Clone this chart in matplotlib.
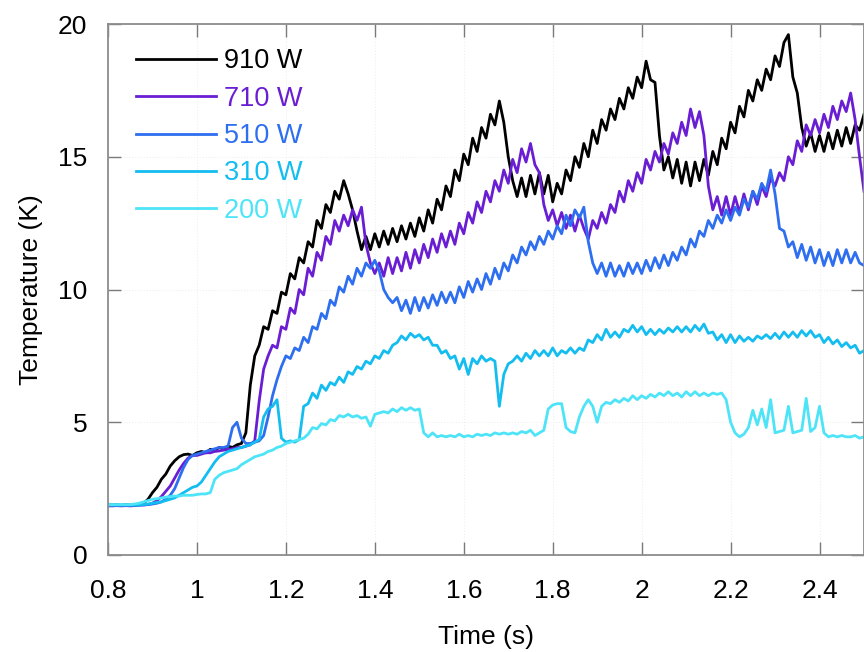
import numpy as np
import matplotlib
matplotlib.use("Agg")
import matplotlib.pyplot as plt

plt.rcParams['font.family'] = ['Liberation Sans', 'DejaVu Sans']

# time base (s), sampled every 10 ms
time_s = np.round(np.arange(0.80, 2.505, 0.01), 2)

labels = ["910 W", "710 W", "510 W", "310 W", "200 W"]
colors = ["#000000", "#6a1ed4", "#2e6ef0", "#14bdf0", "#4de4f8"]

temp_910 = [
    1.90, 1.88, 1.90, 1.87, 1.90, 1.88, 1.90, 1.90, 1.95, 2.10,
    2.35, 2.55, 2.85, 3.05, 3.35, 3.55, 3.70, 3.78, 3.80, 3.75,
    3.85, 3.90, 3.85, 3.98, 3.95, 4.05, 4.00, 4.10, 4.05, 4.15,
    4.20, 4.60, 6.40, 7.50, 7.90, 8.60, 8.50, 9.20, 9.10, 9.90,
    9.80, 10.60, 10.40, 11.20, 11.00, 11.80, 11.60, 12.60, 12.30, 13.20,
    12.90, 13.70, 13.40, 14.10, 13.60, 13.00, 12.20, 11.50, 12.00, 11.50,
    12.10, 11.60, 12.20, 11.70, 12.30, 11.80, 12.40, 11.90, 12.50, 12.00,
    12.70, 12.20, 13.00, 12.50, 13.40, 13.00, 13.90, 13.50, 14.50, 14.10,
    15.10, 14.70, 15.70, 15.20, 16.10, 15.70, 16.60, 16.20, 17.10, 16.30,
    15.00, 14.10, 13.50, 14.20, 13.50, 14.30, 13.60, 14.40, 13.60, 14.30,
    13.30, 14.00, 13.60, 14.50, 14.10, 15.00, 14.60, 15.50, 15.00, 16.00,
    15.50, 16.40, 16.00, 16.80, 16.40, 17.20, 16.80, 17.60, 17.20, 18.00,
    17.60, 18.60, 17.90, 17.80, 15.80, 14.50, 15.00, 14.20, 14.90, 14.00,
    14.80, 13.90, 14.80, 14.10, 14.90, 14.30, 15.20, 14.70, 15.70, 15.30,
    16.30, 15.90, 16.90, 16.50, 17.50, 17.10, 17.90, 17.50, 18.30, 17.90,
    18.80, 18.40, 19.30, 19.60, 18.00, 17.40, 16.10, 15.40, 15.90, 15.20,
    15.80, 15.20, 15.90, 15.30, 16.00, 15.40, 16.10, 15.50, 16.20, 16.00,
    16.60,
]

temp_710 = [
    1.85, 1.85, 1.86, 1.85, 1.86, 1.85, 1.86, 1.88, 1.88, 1.90,
    1.95, 2.05, 2.20, 2.40, 2.60, 2.90, 3.20, 3.45, 3.65, 3.75,
    3.75, 3.80, 3.85, 3.85, 3.90, 3.92, 3.95, 3.98, 4.00, 4.05,
    4.05, 4.10, 4.15, 4.30, 5.80, 7.00, 7.50, 7.90, 7.80, 8.60,
    8.50, 9.30, 9.10, 10.00, 9.80, 10.80, 10.50, 11.40, 11.10, 12.00,
    11.70, 12.60, 12.20, 12.80, 12.40, 13.00, 12.60, 13.10, 11.70, 11.00,
    10.60, 11.00, 10.50, 11.20, 10.60, 11.20, 10.70, 11.40, 10.80, 11.50,
    11.00, 11.70, 11.20, 11.90, 11.40, 12.10, 11.60, 12.20, 11.70, 12.50,
    12.10, 12.90, 12.50, 13.30, 12.90, 13.70, 13.30, 14.10, 13.70, 14.50,
    14.00, 14.90, 14.40, 15.30, 14.80, 15.50, 14.70, 14.40, 13.20, 12.60,
    13.00, 12.40, 12.90, 12.30, 12.80, 12.20, 12.80, 12.30, 11.90, 12.60,
    12.30, 12.90, 12.50, 13.20, 12.90, 13.70, 13.30, 14.10, 13.70, 14.40,
    14.00, 14.90, 14.50, 15.20, 14.80, 15.50, 15.10, 15.90, 15.50, 16.30,
    15.80, 16.80, 16.10, 16.70, 15.80, 13.90, 13.00, 13.50, 12.80, 13.50,
    12.80, 13.50, 12.90, 13.60, 13.00, 13.70, 13.20, 13.90, 13.50, 14.20,
    13.90, 14.40, 14.10, 15.00, 14.70, 15.60, 15.20, 16.20, 15.80, 16.40,
    15.90, 16.60, 16.10, 16.90, 16.40, 17.10, 16.70, 17.40, 16.40, 15.00,
    13.70,
]

temp_510 = [
    1.88, 1.87, 1.88, 1.87, 1.88, 1.87, 1.88, 1.88, 1.90, 1.90,
    1.92, 1.95, 2.00, 2.10, 2.25, 2.50, 2.90, 3.30, 3.60, 3.75,
    3.80, 3.85, 3.90, 3.95, 4.00, 4.05, 4.05, 4.10, 4.80, 5.00,
    4.40, 4.20, 4.20, 4.25, 4.30, 4.50, 5.20, 6.00, 6.60, 7.10,
    7.50, 7.40, 7.80, 7.70, 8.20, 8.00, 8.60, 8.50, 9.10, 8.90,
    9.60, 9.40, 10.10, 9.90, 10.50, 10.20, 10.80, 10.50, 11.00, 10.80,
    11.10, 10.70, 10.00, 9.70, 9.50, 9.70, 9.20, 9.60, 9.10, 9.70,
    9.20, 9.70, 9.30, 9.80, 9.40, 9.90, 9.50, 9.90, 9.50, 10.10,
    9.70, 10.30, 9.90, 10.40, 10.00, 10.60, 10.20, 10.80, 10.40, 11.00,
    10.70, 11.30, 11.00, 11.60, 11.30, 11.80, 11.50, 12.00, 11.70, 12.20,
    11.90, 12.40, 12.10, 12.80, 12.40, 13.00, 12.70, 13.10, 11.80, 11.00,
    10.60, 11.00, 10.50, 11.00, 10.50, 10.90, 10.50, 11.00, 10.60, 11.00,
    10.60, 11.10, 10.70, 11.20, 10.80, 11.30, 10.90, 11.40, 11.10, 11.60,
    11.30, 11.90, 11.60, 12.20, 12.00, 12.60, 12.30, 12.80, 12.50, 13.00,
    12.60, 13.10, 12.80, 13.40, 13.10, 13.70, 13.40, 14.00, 13.70, 14.50,
    13.60, 12.30, 12.20, 11.60, 11.80, 11.20, 11.70, 11.10, 11.60, 11.00,
    11.50, 10.90, 11.40, 10.90, 11.50, 11.00, 11.50, 11.00, 11.40, 11.00,
    10.90,
]

temp_310 = [
    1.88, 1.88, 1.88, 1.88, 1.88, 1.88, 1.88, 1.88, 1.90, 1.92,
    1.95, 1.98, 2.00, 2.05, 2.10, 2.15, 2.25, 2.35, 2.45, 2.55,
    2.60, 2.75, 3.00, 3.25, 3.50, 3.70, 3.80, 3.90, 3.95, 4.00,
    4.05, 4.10, 4.15, 4.25, 4.35, 5.20, 5.50, 5.60, 5.85, 4.40,
    4.25, 4.30, 4.25, 4.35, 5.60, 5.70, 6.10, 5.90, 6.40, 6.20,
    6.50, 6.40, 6.70, 6.50, 6.90, 6.80, 7.10, 7.00, 7.30, 7.20,
    7.50, 7.40, 7.70, 7.60, 7.90, 8.00, 8.25, 8.10, 8.35, 8.20,
    8.30, 8.10, 8.20, 7.90, 7.90, 7.60, 7.70, 7.40, 7.50, 7.00,
    7.40, 6.80, 7.40, 7.20, 7.50, 7.30, 7.40, 7.30, 5.60, 6.80,
    7.20, 7.30, 7.50, 7.30, 7.60, 7.40, 7.70, 7.50, 7.70, 7.50,
    7.80, 7.50, 7.70, 7.60, 7.80, 7.60, 7.80, 7.70, 8.10, 8.00,
    8.30, 8.10, 8.50, 8.20, 8.40, 8.20, 8.50, 8.40, 8.65, 8.40,
    8.60, 8.30, 8.50, 8.30, 8.50, 8.35, 8.55, 8.40, 8.60, 8.40,
    8.60, 8.40, 8.65, 8.45, 8.70, 8.35, 8.40, 8.10, 8.30, 8.00,
    8.30, 8.00, 8.25, 8.05, 8.20, 8.05, 8.25, 8.15, 8.30, 8.15,
    8.35, 8.15, 8.40, 8.20, 8.40, 8.20, 8.45, 8.25, 8.45, 8.20,
    8.30, 8.00, 8.20, 7.95, 8.10, 7.85, 8.00, 7.80, 7.90, 7.60,
    7.70,
]

temp_200 = [
    1.90, 1.90, 1.90, 1.90, 1.90, 1.90, 1.92, 1.95, 2.00, 2.05,
    2.10, 2.12, 2.15, 2.18, 2.20, 2.22, 2.22, 2.25, 2.25, 2.25,
    2.28, 2.30, 2.30, 2.35, 2.85, 3.00, 3.10, 3.15, 3.20, 3.25,
    3.40, 3.50, 3.60, 3.70, 3.75, 3.80, 3.90, 3.95, 4.05, 4.10,
    4.20, 4.25, 4.30, 4.35, 4.40, 4.55, 4.80, 4.75, 4.95, 4.90,
    5.10, 5.05, 5.25, 5.20, 5.30, 5.20, 5.25, 5.15, 5.20, 4.85,
    5.30, 5.35, 5.40, 5.35, 5.50, 5.40, 5.55, 5.45, 5.55, 5.45,
    5.50, 4.60, 4.45, 4.60, 4.45, 4.50, 4.45, 4.50, 4.45, 4.55,
    4.45, 4.50, 4.45, 4.55, 4.50, 4.55, 4.50, 4.60, 4.55, 4.60,
    4.55, 4.60, 4.55, 4.65, 4.60, 4.70, 4.50, 4.60, 4.70, 5.50,
    5.65, 5.70, 5.70, 4.80, 4.65, 4.60, 5.20, 5.60, 5.85, 5.60,
    5.00, 5.60, 5.75, 5.70, 5.85, 5.75, 5.90, 5.80, 6.00, 5.85,
    6.00, 5.90, 6.05, 5.95, 6.10, 6.00, 6.15, 6.00, 6.10, 5.95,
    6.15, 6.00, 6.15, 6.00, 6.10, 6.00, 6.10, 6.05, 6.10, 5.85,
    5.00, 4.60, 4.45, 4.55, 4.80, 5.45, 4.90, 5.50, 4.80, 5.85,
    4.60, 4.65, 4.70, 5.60, 4.60, 4.65, 4.70, 5.90, 4.65, 4.80,
    5.60, 4.60, 4.45, 4.50, 4.45, 4.50, 4.45, 4.45, 4.50, 4.40,
    4.45,
]

series = [temp_910, temp_710, temp_510, temp_310, temp_200]

fig = plt.figure(figsize=(8.64, 6.52), dpi=100)
ax = fig.add_axes([108 / 864, 97 / 652, 756 / 864, 531 / 652])

for vals, lab, col in zip(series, labels, colors):
    ax.plot(time_s, vals, color=col, lw=2.0, label=lab)

ax.set_xlim(0.8, 2.5)
ax.set_ylim(0, 20)
ax.set_xticks([0.8, 1.0, 1.2, 1.4, 1.6, 1.8, 2.0, 2.2, 2.4])
ax.set_xticklabels(["0.8", "1", "1.2", "1.4", "1.6", "1.8", "2", "2.2", "2.4"])
ax.set_yticks([0, 5, 10, 15, 20])

# very faint dotted grid
ax.grid(True, color="#efefef", ls=":", lw=0.8)
ax.set_axisbelow(True)
for sp in ax.spines.values():
    sp.set_color("#8c8c8c")
    sp.set_linewidth(1.3)
ax.tick_params(direction="in", length=9.5, width=1.0, color="#7a7a7a",
               top=True, right=True, labelsize=19, pad=15)
ax.tick_params(axis="x", pad=17)

ax.set_xlabel("Time (s)", fontsize=19, labelpad=16)
ax.set_ylabel("Temperature (K)", fontsize=19, labelpad=11)

leg = ax.legend(loc="upper left", frameon=False, fontsize=19.5,
                handlelength=2.95, handletextpad=0.3, labelspacing=0.42,
                borderaxespad=0.5, bbox_to_anchor=(0.005, 1.0))
for txt, ln in zip(leg.get_texts(), leg.get_lines()):
    txt.set_color(ln.get_color())

fig.savefig("out.png", dpi=100)
